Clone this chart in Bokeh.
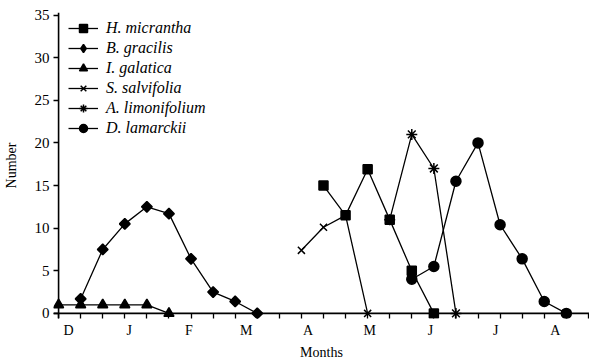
import math
from bokeh.plotting import figure
from bokeh.models import FixedTicker, Range1d, Legend, LegendItem, Span
from bokeh.embed import file_html
from bokeh.resources import INLINE

# x = sampling index (ticks along the month axis)
months = ["D", "J", "F", "M", "A", "M", "J", "J", "A"]
month_pos = [0.45, 3.2, 5.9, 8.5, 11.3, 14.1, 16.85, 19.8, 22.5]
sample_ticks = list(range(25))
y_ticks = [0, 5, 10, 15, 20, 25, 30, 35]

h_micrantha_x = [12, 13, 14, 15, 16, 17]
h_micrantha_y = [15.0, 11.5, 16.9, 11.0, 5.0, 0]
b_gracilis_x = [1, 2, 3, 4, 5, 6, 7, 8, 9]
b_gracilis_y = [1.7, 7.5, 10.5, 12.5, 11.7, 6.4, 2.5, 1.4, 0]
i_galatica_x = [0, 1, 2, 3, 4, 5]
i_galatica_y = [1.0, 1.0, 1.0, 1.0, 1.0, 0]
s_salvifolia_x = [11, 12, 13, 14]
s_salvifolia_y = [7.4, 10.1, 11.5, 0]
a_limonifolium_x = [15, 16, 17, 18]
a_limonifolium_y = [11.0, 21.0, 17.0, 0]
d_lamarckii_x = [16, 17, 18, 19, 20, 21, 22, 23]
d_lamarckii_y = [4.0, 5.5, 15.5, 20.0, 10.4, 6.4, 1.4, 0]

FONT = "Liberation Serif"

p = figure(width=589, height=362, output_backend="svg", toolbar_location=None,
           x_range=Range1d(-0.23, 24.05), y_range=Range1d(-0.6, 35.3),
           min_border_left=53, min_border_right=0, min_border_top=12, min_border_bottom=43)
p.outline_line_color = None
p.grid.visible = False
p.background_fill_color = "white"
p.border_fill_color = "white"

# axis lines at the zero positions
p.add_layout(Span(location=0, dimension="height", line_color="black", line_width=1.6))
p.add_layout(Span(location=0, dimension="width", line_color="black", line_width=1.6))

series = [
    ("H. micrantha", h_micrantha_x, h_micrantha_y, "square", 9),
    ("B. gracilis", b_gracilis_x, b_gracilis_y, "diamond", 9),
    ("I. galatica", i_galatica_x, i_galatica_y, "triangle", 10),
    ("S. salvifolia", s_salvifolia_x, s_salvifolia_y, "x", 10),
    ("A. limonifolium", a_limonifolium_x, a_limonifolium_y, "asterisk", 11),
    ("D. lamarckii", d_lamarckii_x, d_lamarckii_y, "circle", 10),
]

items = []
for name, xs, ys, marker, size in series:
    r1 = p.line(xs, ys, line_color="black", line_width=1.3)
    r2 = p.scatter(xs, ys, marker=marker, size=size, fill_color="black",
                   line_color="black", line_width=1.5)
    if marker == "diamond":
        # the printed diamonds are as wide as they are tall
        p.scatter(xs, ys, marker="square", size=7.5, angle=math.pi / 4,
                  fill_color="black", line_color="black", line_width=1.5)
    items.append(LegendItem(label=name, renderers=[r1, r2]))

legend = Legend(items=items, location=(15, 180), padding=0, margin=0, spacing=0,
                label_height=20, glyph_height=20, glyph_width=30, label_standoff=8,
                border_line_color=None, background_fill_alpha=0,
                label_text_font=FONT, label_text_font_style="italic",
                label_text_font_size="16px", label_text_color="black")
p.add_layout(legend)

# y axis
ya = p.yaxis[0]
ya.ticker = FixedTicker(ticks=y_ticks)
ya.axis_line_color = None
ya.major_tick_out = 0
ya.major_tick_in = 5
ya.major_tick_line_width = 1.5
ya.major_tick_line_color = "black"
ya.minor_tick_line_color = None
ya.major_label_text_font = FONT
ya.major_label_text_font_size = "15px"
ya.major_label_text_color = "black"
ya.major_label_standoff = 4
ya.axis_label = "Number"
ya.axis_label_text_font = FONT
ya.axis_label_text_font_style = "normal"
ya.axis_label_text_font_size = "14px"
ya.axis_label_text_color = "black"
ya.axis_label_standoff = 13

# x axis
xa = p.xaxis[0]
xa.ticker = FixedTicker(ticks=month_pos, minor_ticks=sample_ticks)
xa.major_label_overrides = {pos: m for pos, m in zip(month_pos, months)}
xa.axis_line_color = None
xa.major_tick_line_color = None
xa.major_tick_out = 0
xa.major_tick_in = 0
xa.minor_tick_out = 0
xa.minor_tick_in = 5
xa.minor_tick_line_width = 1.3
xa.minor_tick_line_color = "black"
xa.major_label_text_font = FONT
xa.major_label_text_font_size = "14px"
xa.major_label_text_color = "black"
xa.major_label_standoff = 4
xa.axis_label = "Months"
xa.axis_label_text_font = FONT
xa.axis_label_text_font_style = "normal"
xa.axis_label_text_font_size = "14px"
xa.axis_label_text_color = "black"
xa.axis_label_standoff = 4

open("out.html", "w").write(file_html(p, INLINE))
